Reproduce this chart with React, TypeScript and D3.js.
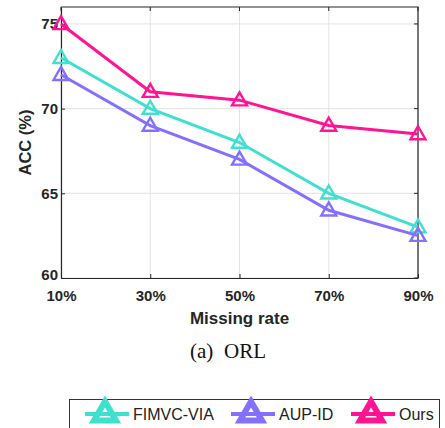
import * as d3 from 'd3'
import React, { useEffect, useRef } from 'react'

const rates = ['10%', '30%', '50%', '70%', '90%']
const fimvc = [73, 70, 68, 65, 63]
const aupid = [72, 69, 67, 64, 62.5]
const ours = [75, 71, 70.5, 69, 68.5]
const yTicks = [60, 65, 70, 75]

const series = [
  { name: 'FIMVC-VIA', values: fimvc, color: '#40E0D0' },
  { name: 'AUP-ID', values: aupid, color: '#8470FF' },
  { name: 'Ours', values: ours, color: '#FF1493' }
]

const W = 445
const H = 428
const m = { left: 61, right: 418, top: 7, bottom: 278 }
const font = '"Liberation Sans", Arial, Helvetica, sans-serif'

const tri = (s: number) => {
  const h = s * 0.866
  return `M0,${-h * 0.6}L${s / 2},${h * 0.4}L${-s / 2},${h * 0.4}Z`
}

export default function App() {
  const ref = useRef<SVGSVGElement>(null)

  useEffect(() => {
    const svg = d3.select(ref.current)
    svg.selectAll('*').remove()

    const x = d3.scalePoint().domain(rates).range([m.left, m.right])
    const y = d3.scaleLinear().domain([60, 76]).range([m.bottom, m.top])

    // grid
    const grid = svg.append('g')
    grid
      .selectAll('line.v')
      .data(rates)
      .join('line')
      .attr('x1', d => x(d)!)
      .attr('x2', d => x(d)!)
      .attr('y1', m.top)
      .attr('y2', m.bottom)
      .attr('stroke', '#e3e3e3')
      .attr('stroke-width', 1)
    grid
      .selectAll('line.h')
      .data(yTicks)
      .join('line')
      .attr('x1', m.left)
      .attr('x2', m.right)
      .attr('y1', d => y(d))
      .attr('y2', d => y(d))
      .attr('stroke', '#e3e3e3')
      .attr('stroke-width', 1)

    // axes
    const xAxis = svg
      .append('g')
      .attr('transform', `translate(0,${m.bottom})`)
      .call(d3.axisBottom(x).tickSizeInner(-4).tickSizeOuter(0).tickPadding(12))
    const yAxis = svg
      .append('g')
      .attr('transform', `translate(${m.left},0)`)
      .call(d3.axisLeft(y).tickValues(yTicks).tickSizeInner(-4).tickSizeOuter(0).tickPadding(3))
    ;[xAxis, yAxis].forEach(a => {
      a.select('.domain').attr('stroke', '#262626').attr('stroke-width', 1.2)
      a.selectAll('.tick line').attr('stroke', '#262626')
      a.selectAll('.tick text')
        .attr('fill', '#262626')
        .style('font-family', font)
        .style('font-size', '15px')
        .style('font-weight', 'bold')
    })
    yAxis.select('.tick:first-of-type text').attr('dy', '0.1em')

    // top/right box
    svg.append('path')
      .attr('d', `M${m.left},${m.top}H${m.right}V${m.bottom}`)
      .attr('fill', 'none')
      .attr('stroke', '#262626')
      .attr('stroke-width', 1.2)
    // top/right ticks
    svg.append('g').selectAll('line')
      .data(rates)
      .join('line')
      .attr('x1', d => x(d)!).attr('x2', d => x(d)!)
      .attr('y1', m.top).attr('y2', m.top + 4)
      .attr('stroke', '#262626')
    svg.append('g').selectAll('line')
      .data(yTicks)
      .join('line')
      .attr('x1', m.right - 4).attr('x2', m.right)
      .attr('y1', d => y(d)).attr('y2', d => y(d))
      .attr('stroke', '#262626')

    // lines
    const line = d3.line<number>()
      .x((_, i) => x(rates[i])!)
      .y(d => y(d))
    series.forEach(s => {
      svg.append('path')
        .datum(s.values)
        .attr('d', line)
        .attr('fill', 'none')
        .attr('stroke', s.color)
        .attr('stroke-width', 3)
      svg.append('g').selectAll('path')
        .data(s.values)
        .join('path')
        .attr('transform', (d, i) => `translate(${x(rates[i])},${y(d)})`)
        .attr('d', tri(15))
        .attr('fill', 'none')
        .attr('stroke', s.color)
        .attr('stroke-width', 2.4)
    })

    // axis labels
    svg.append('text')
      .attr('x', (m.left + m.right) / 2)
      .attr('y', 324)
      .attr('text-anchor', 'middle')
      .attr('fill', '#262626')
      .style('font-family', font)
      .style('font-size', '17px')
      .style('font-weight', 'bold')
      .text('Missing rate')
    svg.append('text')
      .attr('transform', `translate(31,${(m.top + m.bottom) / 2}) rotate(-90)`)
      .attr('text-anchor', 'middle')
      .attr('fill', '#262626')
      .style('font-family', font)
      .style('font-size', '16.5px')
      .style('font-weight', 'bold')
      .text('ACC (%)')

    // caption
    const cap = svg.append('text')
      .attr('y', 358)
      .attr('fill', '#111')
      .style('font-family', '"Liberation Serif", "Times New Roman", serif')
      .style('font-size', '21px')
    cap.append('tspan').attr('x', 190).text('(a)')
    cap.append('tspan').attr('x', 224).text('ORL')

    // legend
    const lg = svg.append('g')
    lg.append('rect')
      .attr('x', 69.5).attr('y', 399.5)
      .attr('width', 370).attr('height', 40)
      .attr('fill', '#fff')
      .attr('stroke', '#333')
      .attr('stroke-width', 1)
    const legX = [85, 231, 351]
    series.forEach((s, i) => {
      const g = lg.append('g').attr('transform', `translate(${legX[i]},414)`)
      g.append('line')
        .attr('x1', 0).attr('x2', 44)
        .attr('stroke', s.color)
        .attr('stroke-width', 4)
      g.append('path')
        .attr('transform', 'translate(20,-1)')
        .attr('d', tri(22))
        .attr('fill', 'none')
        .attr('stroke', s.color)
        .attr('stroke-width', 6)
      g.append('text')
        .attr('x', 48)
        .attr('y', 6)
        .attr('fill', '#222')
        .style('font-family', font)
        .style('font-size', '16px')
        .text(s.name)
    })
  }, [])

  return <svg ref={ref} width={W} height={H} style={{ position: 'absolute', left: 0, top: 0 }} />
}
